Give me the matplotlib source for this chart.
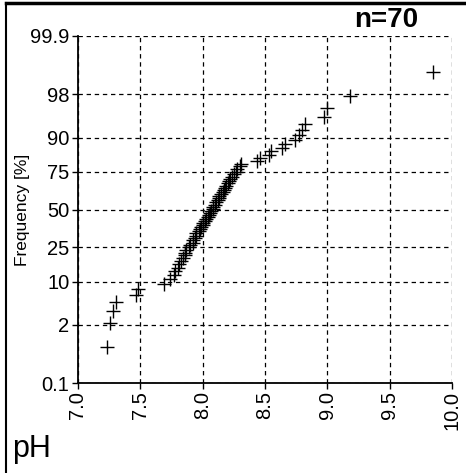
from statistics import NormalDist
import numpy as np
import matplotlib
matplotlib.use("Agg")
import matplotlib.pyplot as plt
from matplotlib.lines import Line2D

# sorted pH values (n=70)
ph_values = [7.23, 7.26, 7.28, 7.31, 7.47, 7.48, 7.69, 7.74, 7.77,
             7.78, 7.80, 7.81, 7.83, 7.84, 7.86, 7.86, 7.87, 7.89, 7.90,
             7.92, 7.92, 7.94, 7.95, 7.95, 7.97, 7.98, 7.99, 8.00, 8.00,
             8.02, 8.03, 8.04, 8.05, 8.06, 8.07, 8.08, 8.08, 8.10, 8.11,
             8.12, 8.13, 8.13, 8.15, 8.16, 8.17, 8.18, 8.19, 8.20, 8.21,
             8.22, 8.24, 8.25, 8.27, 8.28, 8.30, 8.31,
             8.44, 8.46, 8.53, 8.55, 8.64, 8.66, 8.74, 8.77, 8.80, 8.82,
             8.97, 9.00, 9.18, 9.85]
freq_ticks = [0.1, 2, 10, 25, 50, 75, 90, 98, 99.9]
freq_labels = ["0.1", "2", "10", "25", "50", "75", "90", "98", "99.9"]
ph_ticks = [7.0, 7.5, 8.0, 8.5, 9.0, 9.5, 10.0]

nd = NormalDist()
n = len(ph_values)
z = [nd.inv_cdf((i - 0.5) / n) for i in range(1, n + 1)]
zt = [nd.inv_cdf(f / 100.0) for f in freq_ticks]

plt.rcParams['font.family'] = ['Liberation Sans Narrow', 'Liberation Sans', 'DejaVu Sans']

fig = plt.figure(figsize=(4.66, 4.73), dpi=100)
ax = fig.add_axes([0.167, 0.190, 0.803, 0.734])

ax.plot(ph_values, z, linestyle='none', marker='+', color='black',
        markersize=10, markeredgewidth=1.0)

ax.set_xlim(7.0, 10.0)
ax.set_ylim(zt[0], zt[-1])
ax.set_xticks(ph_ticks)
ax.set_xticklabels(["%.1f" % t for t in ph_ticks], rotation=90, fontsize=14.5)
ax.set_yticks(zt)
ax.set_yticklabels(freq_labels, fontsize=14.5)
ax.tick_params(length=4, width=1, pad=2)

ax.grid(True, color='black', linestyle=(0, (3.5, 3)), linewidth=0.9)
for s in ['top', 'right']:
    ax.spines[s].set_visible(False)
ax.spines['left'].set_linewidth(1.3)
ax.spines['bottom'].set_linewidth(1.3)

ax.set_ylabel("Frequency [%]", fontsize=12.5, labelpad=0)
fig.text(0.76, 0.93, "n=70", fontsize=20, fontweight='bold', ha='left', va='bottom')
fig.text(0.026, 0.02, "pH", fontsize=22, ha='left', va='bottom')

# frame lines of the scanned figure
fig.add_artist(Line2D([0.013, 0.013], [0.0, 0.994], color='black', linewidth=1.5))
fig.add_artist(Line2D([0.013, 1.0], [0.994, 0.994], color='black', linewidth=2.5))

fig.savefig("out.png", dpi=100)
